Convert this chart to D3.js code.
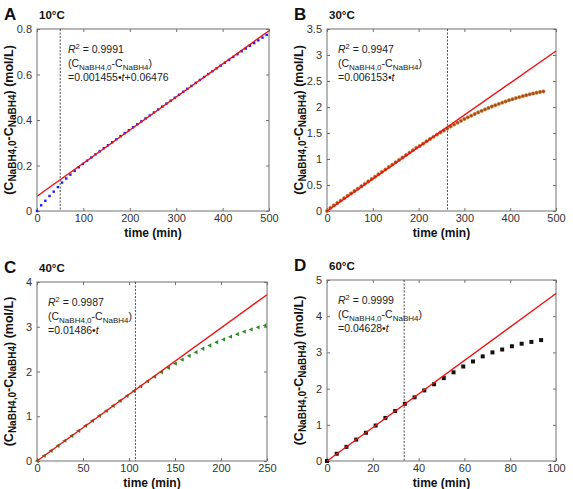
<!DOCTYPE html>
<html>
<head>
<meta charset="utf-8">
<script src="https://cdn.jsdelivr.net/npm/d3@7"></script>
<style>
  body { margin: 0; background: #fff; }
  text { font-family: Arial, "Liberation Sans", sans-serif; }
</style>
</head>
<body>
<script>
// data
const panelLetters = ['A', 'B', 'C', 'D'];
const temperatures = ['10°C', '30°C', '40°C', '60°C'];
const r2Labels = ['0.9991', '0.9947', '0.9987', '0.9999'];
const fitLabels = ['=0.001455•', '=0.006153•', '=0.01486•', '=0.04628•'];
const fitTails = ['+0.06476', '', '', ''];
const fitSlope = [0.001455, 0.006153, 0.01486, 0.04628];
const fitIntercept = [0.06476, 0, 0, 0];
const cutTimes = [50, 263, 107, 33.7];
const xMax = [500, 500, 250, 100];
const yMax = [0.8, 3.5, 4, 5];
const xTicks = [
  [0, 100, 200, 300, 400, 500],
  [0, 100, 200, 300, 400, 500],
  [0, 50, 100, 150, 200, 250],
  [0, 20, 40, 60, 80, 100]
];
const yTicks = [
  [0, 0.2, 0.4, 0.6, 0.8],
  [0, 0.5, 1, 1.5, 2, 2.5, 3, 3.5],
  [0, 1, 2, 3, 4],
  [0, 1, 2, 3, 4, 5]
];

// 10 °C
const timeA = [0, 9, 18, 27, 36, 45, 54, 63, 72, 81, 90, 99, 108, 117, 126, 135, 144, 153, 162, 171,
  180, 189, 198, 207, 216, 225, 234, 243, 252, 261, 270, 279, 288, 297, 306, 315, 324, 333, 342, 351,
  360, 369, 378, 387, 396, 405, 414, 423, 432, 441, 450, 459, 468, 477, 486, 495];
const concA = [0, 0.025, 0.045, 0.066, 0.085, 0.105, 0.125, 0.143, 0.160, 0.176, 0.192, 0.207, 0.221, 0.235, 0.249, 0.262, 0.276, 0.289, 0.302, 0.315,
  0.329, 0.342, 0.355, 0.368, 0.381, 0.394, 0.407, 0.420, 0.433, 0.446, 0.459, 0.472, 0.485, 0.498, 0.511, 0.524, 0.537, 0.550, 0.563, 0.576,
  0.589, 0.602, 0.614, 0.627, 0.639, 0.652, 0.664, 0.677, 0.689, 0.702, 0.714, 0.726, 0.738, 0.750, 0.762, 0.774];

// 30 °C
const timeB = [0, 7.5, 15, 22.5, 30, 37.5, 45, 52.5, 60, 67.5, 75, 82.5, 90, 97.5, 105, 112.5, 120, 127.5, 135, 142.5,
  150, 157.5, 165, 172.5, 180, 187.5, 195, 202.5, 210, 217.5, 225, 232.5, 240, 247.5, 255, 262.5, 270, 277.5, 285, 292.5,
  300, 307.5, 315, 322.5, 330, 337.5, 345, 352.5, 360, 367.5, 375, 382.5, 390, 397.5, 405, 412.5, 420, 427.5, 435, 442.5,
  450, 457.5, 465, 472.5];
const concB = [0, 0.06, 0.107, 0.153, 0.20, 0.246, 0.292, 0.338, 0.384, 0.43, 0.476, 0.522, 0.568, 0.615, 0.661, 0.707, 0.753, 0.799, 0.845, 0.891,
  0.937, 0.984, 1.03, 1.076, 1.122, 1.168, 1.214, 1.25, 1.296, 1.34, 1.384, 1.426, 1.468, 1.509, 1.548, 1.587, 1.625, 1.662, 1.699, 1.734,
  1.768, 1.801, 1.834, 1.865, 1.896, 1.925, 1.954, 1.982, 2.009, 2.034, 2.06, 2.084, 2.107, 2.129, 2.15, 2.171, 2.19, 2.209, 2.227, 2.243,
  2.259, 2.274, 2.288, 2.30];

// 40 °C
const timeC = [0, 7.5, 15, 22.5, 30, 37.5, 45, 52.5, 60, 67.5, 75, 82.5, 90, 97.5, 105, 112.5, 120, 127.5, 135, 142.5,
  150, 157.5, 165, 172.5, 180, 187.5, 195, 202.5, 210, 217.5, 225, 232.5, 240, 247.5];
const concC = [0, 0.115, 0.23, 0.34, 0.455, 0.565, 0.675, 0.79, 0.90, 1.01, 1.12, 1.235, 1.345, 1.455, 1.565, 1.672, 1.781, 1.885, 1.986, 2.083,
  2.176, 2.265, 2.35, 2.431, 2.508, 2.582, 2.652, 2.717, 2.779, 2.835, 2.89, 2.941, 2.987, 3.03];

// 60 °C
const timeD = [0, 4.25, 8.5, 12.75, 17, 21.25, 25.5, 29.75, 34, 38.25, 42.5, 46.75, 51, 55.25, 59.5, 63.75, 68, 72.25, 76.5, 80.75,
  85, 89.25, 93.5];
const concD = [0, 0.20, 0.39, 0.59, 0.78, 0.98, 1.19, 1.38, 1.58, 1.76, 1.95, 2.12, 2.29, 2.45, 2.61, 2.75, 2.89, 3.0, 3.08, 3.17,
  3.24, 3.29, 3.34];

const allTimes = [timeA, timeB, timeC, timeD];
const allConc = [concA, concB, concC, concD];

// layout
const boxes = [
  {x0: 37, x1: 269, y0: 29, y1: 211, ox: 0, oy: 0},
  {x0: 327, x1: 556, y0: 29, y1: 211, ox: 290, oy: 0},
  {x0: 37, x1: 267, y0: 282, y1: 461, ox: 0, oy: 253},
  {x0: 327, x1: 556, y0: 280, y1: 461, ox: 290, oy: 252}
];
const markerKind = ['square', 'circle', 'triangle', 'bigsquare'];
const markerColor = ['#1a1aff', '#9c4a1a', '#2e8b22', '#111'];

const svg = d3.select('body').append('svg')
  .attr('width', 573).attr('height', 489);

const fmt = v => String(v);

function drawPanel(i) {
  const b = boxes[i];
  const x = d3.scaleLinear().domain([0, xMax[i]]).range([b.x0, b.x1]);
  const y = d3.scaleLinear().domain([0, yMax[i]]).range([b.y1, b.y0]);
  const g = svg.append('g');

  // frame
  g.append('rect')
    .attr('x', b.x0).attr('y', b.y0)
    .attr('width', b.x1 - b.x0).attr('height', b.y1 - b.y0)
    .attr('fill', '#fff').attr('stroke', '#707070').attr('stroke-width', 1);

  // axes, ticks pointing inward, mirrored on top/right
  const axB = g.append('g').attr('transform', `translate(0,${b.y1})`)
    .call(d3.axisBottom(x).tickValues(xTicks[i]).tickSize(-3).tickPadding(3).tickFormat(fmt));
  const axT = g.append('g').attr('transform', `translate(0,${b.y0})`)
    .call(d3.axisTop(x).tickValues(xTicks[i]).tickSize(-3).tickFormat(''));
  const axL = g.append('g').attr('transform', `translate(${b.x0},0)`)
    .call(d3.axisLeft(y).tickValues(yTicks[i]).tickSize(-3).tickPadding(5).tickFormat(fmt));
  const axR = g.append('g').attr('transform', `translate(${b.x1},0)`)
    .call(d3.axisRight(y).tickValues(yTicks[i]).tickSize(-3).tickFormat(''));
  [axB, axT, axL, axR].forEach(a => {
    a.select('.domain').remove();
    a.selectAll('line').attr('stroke', '#707070');
    a.selectAll('text').attr('fill', '#333').style('font-size', '11px');
  });

  // dashed marker of the linear range
  g.append('line')
    .attr('x1', x(cutTimes[i])).attr('x2', x(cutTimes[i]))
    .attr('y1', b.y0).attr('y2', b.y1)
    .attr('stroke', '#222').attr('stroke-width', 0.8)
    .attr('stroke-dasharray', '2,1.5');

  // measured points
  const pts = allTimes[i].map((t, k) => ({t: t, c: allConc[i][k]}));
  const kind = markerKind[i];
  const col = markerColor[i];
  const pg = g.append('g');
  if (kind === 'square') {
    pg.selectAll('rect').data(pts).enter().append('rect')
      .attr('x', d => x(d.t) - 1.2).attr('y', d => y(d.c) - 1.2)
      .attr('width', 2.4).attr('height', 2.4).attr('fill', col);
  } else if (kind === 'bigsquare') {
    pg.selectAll('rect').data(pts).enter().append('rect')
      .attr('x', d => x(d.t) - 2).attr('y', d => y(d.c) - 2)
      .attr('width', 4).attr('height', 4).attr('fill', col);
  } else if (kind === 'circle') {
    pg.selectAll('circle').data(pts).enter().append('circle')
      .attr('cx', d => x(d.t)).attr('cy', d => y(d.c)).attr('r', 1.7)
      .attr('fill', col).attr('stroke', '#d8772a').attr('stroke-width', 0.6);
  } else {
    pg.selectAll('path').data(pts).enter().append('path')
      .attr('d', d => `M${x(d.t) - 2.2},${y(d.c)}L${x(d.t) + 1.8},${y(d.c) - 2.2}L${x(d.t) + 1.8},${y(d.c) + 2.2}Z`)
      .attr('fill', col);
  }

  // linear fit
  const fit = d3.line().x(d => x(d)).y(d => y(fitSlope[i] * d + fitIntercept[i]));
  g.append('path').datum([0, xMax[i]])
    .attr('d', fit).attr('fill', 'none')
    .attr('stroke', '#ee1111').attr('stroke-width', 1.4);

  // panel letter and temperature
  g.append('text').attr('x', b.ox + 4).attr('y', b.y0 - 9)
    .style('font-size', '17px').style('font-weight', 'bold').attr('fill', '#111')
    .text(panelLetters[i]);
  g.append('text').attr('x', b.x0 + 2).attr('y', b.y0 - 10)
    .style('font-size', '11.5px').style('font-weight', 'bold').attr('fill', '#111')
    .text(temperatures[i]);

  // axis titles
  g.append('text')
    .attr('x', (b.x0 + b.x1) / 2).attr('y', b.y1 + 25.5)
    .attr('text-anchor', 'middle')
    .style('font-size', '12px').style('font-weight', 'bold').attr('fill', '#111')
    .text('time (min)');

  const yl = g.append('text')
    .attr('transform', `translate(${b.ox + 13},${(b.y0 + b.y1) / 2}) rotate(-90)`)
    .attr('text-anchor', 'middle')
    .style('font-size', '12.5px').style('font-weight', 'bold').attr('fill', '#111');
  yl.append('tspan').text('(C');
  yl.append('tspan').attr('dy', 3).style('font-size', '10px').text('NaBH4,0');
  yl.append('tspan').attr('dy', -3).text('-C');
  yl.append('tspan').attr('dy', 3).style('font-size', '10px').text('NaBH4');
  yl.append('tspan').attr('dy', -3).text(') (mol/L)');

  // fit annotation
  const ax = b.x0 + (i === 0 ? 31 : 11);
  const ay = b.y0 + 24;
  const a = g.append('g').style('font-size', '10.5px').attr('fill', '#222');
  const l1 = a.append('text').attr('x', ax).attr('y', ay);
  l1.append('tspan').style('font-style', 'italic').text('R');
  l1.append('tspan').attr('dy', -4).style('font-size', '7.5px').text('2');
  l1.append('tspan').attr('dy', 4).text(' = ' + r2Labels[i]);
  const l2 = a.append('text').attr('x', ax).attr('y', ay + 14);
  l2.append('tspan').text('(C');
  l2.append('tspan').attr('dy', 2.5).style('font-size', '8px').text('NaBH4,0');
  l2.append('tspan').attr('dy', -2.5).text('-C');
  l2.append('tspan').attr('dy', 2.5).style('font-size', '8px').text('NaBH4');
  l2.append('tspan').attr('dy', -2.5).text(')');
  const l3 = a.append('text').attr('x', ax).attr('y', ay + 28);
  l3.append('tspan').text(fitLabels[i]);
  l3.append('tspan').style('font-style', 'italic').text('t');
  l3.append('tspan').text(fitTails[i]);
}

[0, 1, 2, 3].forEach(drawPanel);
</script>
</body>
</html>
